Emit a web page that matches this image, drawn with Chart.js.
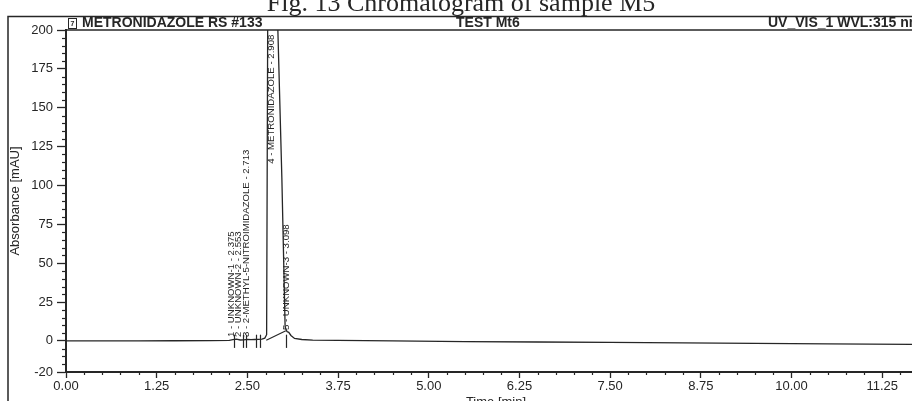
<!DOCTYPE html>
<html>
<head>
<meta charset="utf-8">
<script src="https://cdn.jsdelivr.net/npm/chart.js@4.4.1/dist/chart.umd.min.js"></script>
<style>
  html, body { margin: 0; padding: 0; background: #ffffff; }
  #wrap { position: relative; width: 912px; height: 401px; overflow: hidden; }
  canvas { position: absolute; left: 0; top: 0; }
</style>
</head>
<body>
<div id="wrap"><canvas id="c" width="912" height="401"></canvas></div>
<script>
// ---- data ----
const figureTitle = 'Fig. 13 Chromatogram of sample M5';
const headerLeft = 'METRONIDAZOLE RS #133';
const headerMid = 'TEST Mt6';
const headerRight = 'UV_VIS_1 WVL:315 nm';
const xAxisTitle = 'Time [min]';
const yAxisTitle = 'Absorbance [mAU]';

const xTickValues = [0, 1.25, 2.5, 3.75, 5, 6.25, 7.5, 8.75, 10, 11.25];
const yTickValues = [-20, 0, 25, 50, 75, 100, 125, 150, 175, 200];

const timeMin = [0, 0.5, 1.0, 1.5, 2.0, 2.25, 2.3, 2.35, 2.4, 2.45, 2.5, 2.55, 2.6, 2.65, 2.7, 2.74, 2.765, 2.78, 2.85, 2.92, 2.975, 3.02, 3.045, 3.07, 3.1, 3.15, 3.25, 3.4, 3.75, 4.5, 5.5, 6.5, 7.5, 8.5, 9.5, 10.5, 11.7];
const absorbance = [0, 0, 0, 0.1, 0.2, 0.4, 0.8, 1.2, 0.6, 0.7, 1.0, 0.8, 0.9, 1.0, 1.2, 1.8, 4, 205, 600, 200, 105, 9, 6, 5.5, 3.5, 1.6, 0.9, 0.5, 0.3, 0, -0.4, -0.7, -1.0, -1.3, -1.6, -1.9, -2.2];

// integrator baseline under the main peak / shoulder
const peakBaseTime = [2.76, 3.03];
const peakBaseValue = [0.5, 6.5];

const peakNumbers = [1, 2, 3, 4, 5];
const peakNames = ['UNKNOWN-1', 'UNKNOWN-2', '2-METHYL-5-NITROIMIDAZOLE', 'METRONIDAZOLE', 'UNKNOWN-3'];
const peakRetention = ['2.375', '2.553', '2.713', '2.908', '3.098'];
const peakLabelTime = [2.29, 2.385, 2.495, 2.84, 3.045];
const peakLabelValue = [2.5, 2.5, 2.5, 197, 7];
const peakLabelAnchor = ['start', 'start', 'start', 'end', 'start'];
const peakDelimiterTime = [2.32, 2.445, 2.486, 2.624, 2.68, 3.035];

const xMinorStep = 0.25;
const yMinorStep = 5;

// ---- chart ----
const ink = '#262626';
const FONT = '"Liberation Sans", Arial, sans-serif';

const overlay = {
  id: 'overlay',
  afterDraw(chart) {
    const ctx = chart.ctx;
    const xs = chart.scales.x, ys = chart.scales.y;
    const area = chart.chartArea;
    ctx.save();
    ctx.strokeStyle = ink;
    ctx.fillStyle = ink;

    // outer page frame
    ctx.lineWidth = 1.5;
    ctx.beginPath();
    ctx.moveTo(8, 401); ctx.lineTo(8, 16.5); ctx.lineTo(912, 16.5);
    ctx.stroke();

    // figure caption (cut at top like the scan)
    ctx.font = '26px "Liberation Serif", "Times New Roman", serif';
    ctx.textAlign = 'center';
    ctx.textBaseline = 'alphabetic';
    ctx.fillText(figureTitle, 461, 11);

    // header row
    ctx.font = 'bold 14px ' + FONT;
    ctx.textBaseline = 'middle';
    ctx.textAlign = 'left';
    ctx.fillText(headerLeft, 82, 23.5);
    ctx.fillText(headerMid, 456, 23.5);
    ctx.fillText(headerRight, 768, 23.5);
    // small icon
    ctx.lineWidth = 1;
    ctx.strokeRect(68.5, 18.5, 8, 10);
    ctx.font = 'bold 7px ' + FONT;
    ctx.textAlign = 'center';
    ctx.fillText('7', 72.5, 24.5);

    // top frame line at the 200 level
    const yTop = ys.getPixelForValue(ys.max);
    ctx.lineWidth = 1.6;
    ctx.beginPath();
    ctx.moveTo(area.left, yTop); ctx.lineTo(area.right, yTop);
    ctx.stroke();

    // y minor ticks
    ctx.lineWidth = 1.2;
    for (let v = ys.min; v <= ys.max + 1e-9; v += yMinorStep) {
      if (yTickValues.includes(v)) continue;
      const py = Math.round(ys.getPixelForValue(v)) + 0.5;
      ctx.beginPath(); ctx.moveTo(area.left - 4, py); ctx.lineTo(area.left, py); ctx.stroke();
    }
    // x minor ticks
    for (let v = 0; v <= xs.max + 1e-9; v += xMinorStep) {
      const r = Math.round(v * 100) / 100;
      if (xTickValues.includes(r)) continue;
      const px = Math.round(xs.getPixelForValue(r)) + 0.5;
      ctx.beginPath(); ctx.moveTo(px, area.bottom); ctx.lineTo(px, area.bottom + 3); ctx.stroke();
    }

    // clip for peak annotations
    ctx.save();
    ctx.beginPath();
    ctx.rect(area.left, area.top, area.right - area.left, area.bottom - area.top);
    ctx.clip();

    // peak delimiters
    ctx.lineWidth = 1.2;
    peakDelimiterTime.forEach(t => {
      const px = Math.round(xs.getPixelForValue(t)) + 0.5;
      ctx.beginPath();
      ctx.moveTo(px, ys.getPixelForValue(4));
      ctx.lineTo(px, ys.getPixelForValue(-4.5));
      ctx.stroke();
    });

    // peak labels (rotated, stretched along the text like the printout font)
    ctx.font = '8.5px ' + FONT;
    ctx.textBaseline = 'middle';
    peakNames.forEach((name, i) => {
      const txt = peakNumbers[i] + ' - ' + name + ' - ' + peakRetention[i];
      const px = xs.getPixelForValue(peakLabelTime[i]);
      const py = ys.getPixelForValue(peakLabelValue[i]);
      ctx.save();
      ctx.translate(px, py);
      ctx.rotate(-Math.PI / 2);
      ctx.scale(1.13, 1);
      ctx.textAlign = peakLabelAnchor[i] === 'start' ? 'left' : 'right';
      ctx.fillText(txt, 0, 0);
      ctx.restore();
    });
    ctx.restore();

    // x axis title (cut at bottom)
    ctx.font = '13px ' + FONT;
    ctx.textAlign = 'center';
    ctx.textBaseline = 'top';
    ctx.fillText(xAxisTitle, (area.left + area.right) / 2 + 7, 396);

    ctx.restore();
  }
};

new Chart(document.getElementById('c'), {
  type: 'scatter',
  data: {
    datasets: [
      {
        data: timeMin.map((t, i) => ({ x: t, y: absorbance[i] })),
        showLine: true,
        borderColor: ink,
        borderWidth: 1.3,
        pointRadius: 0,
        tension: 0,
      },
      {
        data: peakBaseTime.map((t, i) => ({ x: t, y: peakBaseValue[i] })),
        showLine: true,
        borderColor: ink,
        borderWidth: 1.1,
        pointRadius: 0,
      }
    ]
  },
  plugins: [overlay],
  options: {
    responsive: false,
    animation: false,
    events: [],
    layout: { padding: { left: 0, right: 0, top: 30, bottom: 0 } },
    plugins: { legend: { display: false }, tooltip: { enabled: false }, title: { display: false } },
    scales: {
      x: {
        type: 'linear',
        min: 0,
        max: 11.66,
        afterBuildTicks: s => { s.ticks = xTickValues.map(v => ({ value: v })); },
        afterFit: s => { s.height = 29; },
        ticks: {
          color: ink,
          font: { family: FONT, size: 13 },
          padding: 1,
          maxRotation: 0,
          callback: v => v.toFixed(2),
        },
        grid: { drawOnChartArea: false, drawTicks: true, tickLength: 6, color: ink, tickWidth: 1.3 },
        border: { display: true, color: ink, width: 2 },
      },
      y: {
        min: -20,
        max: 200,
        afterBuildTicks: s => { s.ticks = yTickValues.map(v => ({ value: v })); },
        afterFit: s => { s.width = 66; },
        ticks: {
          color: ink,
          font: { family: FONT, size: 13 },
          padding: 4,
          callback: v => String(v),
        },
        grid: { drawOnChartArea: false, drawTicks: true, tickLength: 9, color: ink, tickWidth: 1.3 },
        border: { display: true, color: ink, width: 2 },
        title: {
          display: true,
          text: yAxisTitle,
          color: ink,
          font: { family: FONT, size: 13 },
          padding: { top: 8, bottom: 0 },
        }
      }
    }
  }
});
</script>
</body>
</html>
